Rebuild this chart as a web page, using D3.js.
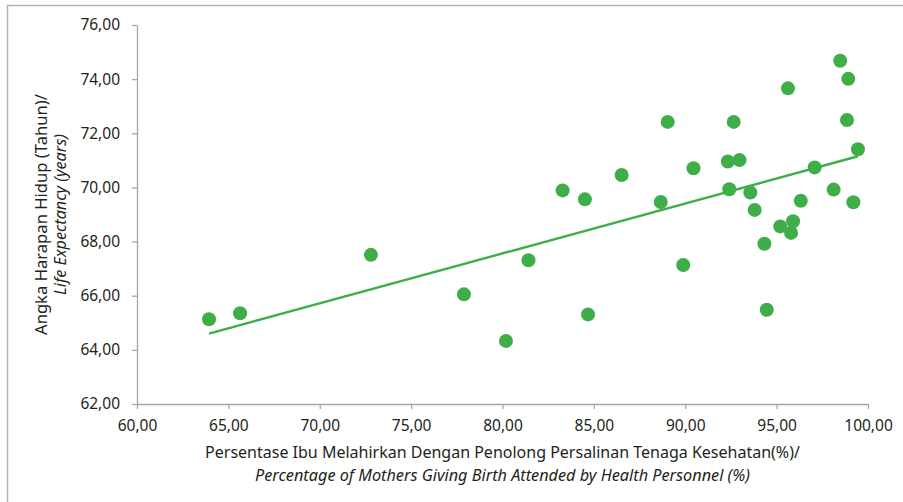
<!DOCTYPE html>
<html>
<head>
<meta charset="utf-8">
<script src="https://cdn.jsdelivr.net/npm/d3@7"></script>
<style>
  html, body { margin: 0; padding: 0; background: #fff; }
  svg { display: block; }
  text { font-family: "Noto Sans", "Open Sans", sans-serif; fill: #231f20; }
</style>
</head>
<body>
<svg id="chart" width="903" height="502"></svg>
<script>
// ---- Data ----
const birthAttended = [63.94, 65.64, 72.80, 77.89, 80.19, 81.42, 83.29, 84.51, 84.68, 86.52,
  88.66, 89.04, 89.89, 90.45, 92.33, 92.41, 92.65, 92.97, 93.56, 93.80,
  94.33, 94.46, 95.20, 95.62, 95.79, 95.90, 96.32, 97.08, 98.12, 98.48,
  98.92, 98.85, 99.20, 99.45];
const lifeExpectancy = [65.13, 65.35, 67.51, 66.05, 64.33, 67.31, 69.89, 69.56, 65.31, 70.46,
  69.46, 72.42, 67.13, 70.71, 70.96, 69.93, 72.42, 71.01, 69.81, 69.17,
  67.92, 65.48, 68.56, 73.66, 68.32, 68.75, 69.51, 70.74, 69.92, 74.68,
  74.01, 72.49, 69.45, 71.41];
const xTicks = [60, 65, 70, 75, 80, 85, 90, 95, 100];
const yTicks = [62, 64, 66, 68, 70, 72, 74, 76];
const xTitle = ["Persentase Ibu Melahirkan Dengan Penolong Persalinan Tenaga Kesehatan(%)/",
                "Percentage of Mothers Giving Birth Attended by Health Personnel (%)"];
const yTitle = ["Angka Harapan Hidup (Tahun)/", "Life Expectancy (years)"];

const GREEN = "#3fae49";
const AXIS = "#a6a6a6";
const svg = d3.select("#chart");

// frame
svg.append("rect").attr("x", 7.5).attr("y", 5.5).attr("width", 900).attr("height", 520)
  .attr("fill", "none").attr("stroke", "#b5b5b5").attr("stroke-width", 1.5);

const pLeft = 137, pRight = 868, pTop = 25, pBottom = 404;
const x = d3.scaleLinear().domain([60, 100]).range([pLeft, pRight]);
const y = d3.scaleLinear().domain([62, 76]).range([pBottom, pTop]);
const fmt = v => d3.format(".2f")(v).replace(".", ",");

// axes
const gx = svg.append("g").attr("transform", `translate(0,${pBottom})`)
  .call(d3.axisBottom(x).tickValues(xTicks).tickFormat(fmt).tickSize(5).tickPadding(11).tickSizeOuter(0));
const gy = svg.append("g").attr("transform", `translate(${pLeft},0)`)
  .call(d3.axisLeft(y).tickValues(yTicks).tickFormat(fmt).tickSize(5).tickPadding(12).tickSizeOuter(0));
[gx, gy].forEach(g => {
  g.select(".domain").attr("stroke", AXIS).attr("stroke-width", 1.3);
  g.selectAll(".tick line").attr("stroke", AXIS).attr("stroke-width", 1.3);
  g.selectAll(".tick text").attr("font-size", 15.5).attr("fill", "#231f20")
    .attr("font-family", '"Noto Sans", sans-serif');
});

// trendline (least squares fit of the data)
const pts = birthAttended.map((v, i) => [v, lifeExpectancy[i]]);
const mx = d3.mean(birthAttended), my = d3.mean(lifeExpectancy);
const slope = d3.sum(pts, p => (p[0] - mx) * (p[1] - my)) / d3.sum(pts, p => (p[0] - mx) ** 2);
const icpt = my - slope * mx;
const [x0, x1] = d3.extent(birthAttended);
svg.append("path")
  .attr("d", d3.line().x(d => x(d[0])).y(d => y(d[1]))([[x0, icpt + slope * x0], [x1, icpt + slope * x1]]))
  .attr("stroke", GREEN).attr("stroke-width", 2.4).attr("fill", "none");

// points
svg.append("g").selectAll("circle").data(pts).join("circle")
  .attr("cx", d => x(d[0])).attr("cy", d => y(d[1])).attr("r", 7)
  .attr("fill", GREEN);

// squeeze a text to a target width (condensed look like the original typeface)
function fitText(sel, target) {
  const w = sel.node().getComputedTextLength();
  if (w > target) sel.attr("textLength", target).attr("lengthAdjust", "spacingAndGlyphs");
  else sel.attr("font-size", parseFloat(sel.attr("font-size")) * target / w);
}

// x title
const cx = (pLeft + pRight) / 2;
const xt1 = svg.append("text").attr("x", cx).attr("y", 458).attr("text-anchor", "middle")
  .attr("font-size", 15.5).text(xTitle[0]);
fitText(xt1, 595);
const xt2 = svg.append("text").attr("x", cx).attr("y", 481).attr("text-anchor", "middle")
  .attr("font-size", 15.5).attr("font-style", "italic").text(xTitle[1]);
fitText(xt2, 495);

// y title
const cy = (pTop + pBottom) / 2;
const yt1 = svg.append("text").attr("transform", `translate(47,${cy}) rotate(-90)`)
  .attr("text-anchor", "middle").attr("font-size", 15.5).text(yTitle[0]);
fitText(yt1, 241);
const yt2 = svg.append("text").attr("transform", `translate(66,${cy}) rotate(-90)`)
  .attr("text-anchor", "middle").attr("font-size", 15.5).attr("font-style", "italic").text(yTitle[1]);
fitText(yt2, 161);
</script>
</body>
</html>
